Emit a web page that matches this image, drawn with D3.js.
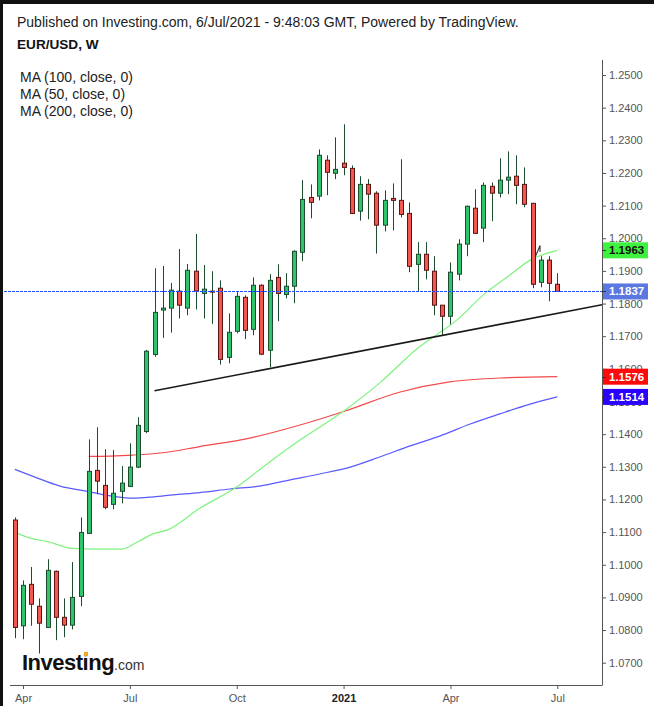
<!DOCTYPE html>
<html><head><meta charset="utf-8">
<script src="https://cdn.jsdelivr.net/npm/d3@7/dist/d3.min.js"></script>
<style>html,body{margin:0;padding:0;background:#fff;}svg{display:block;font-family:"Liberation Sans",Arial,sans-serif;}</style>
</head><body>
<script>
// ---- data (weekly EUR/USD, week of 30 Mar 2020 .. week of 5 Jul 2021) ----
const opens  = [1.1137,1.0813,1.0940,1.0873,1.0808,1.0980,1.0839,1.0815,1.0903,1.1096,1.1289,1.1243,1.1185,1.1225,1.1240,1.1299,1.1408,1.1644,1.1780,1.1786,1.1838,1.1786,1.1899,1.1831,1.1838,1.1847,1.1635,1.1715,1.1819,1.1721,1.1856,1.1657,1.1880,1.1828,1.1853,1.1957,1.2125,1.2129,1.2239,1.2199,1.2230,1.2214,1.2083,1.2165,1.2138,1.2040,1.2122,1.2116,1.2076,1.1920,1.1951,1.1899,1.1795,1.1761,1.1890,1.1982,1.2092,1.2031,1.2159,1.2138,1.2178,1.2190,1.2165,1.2107,1.1865,1.1933,1.1859];
const highs  = [1.1145,1.0952,1.0993,1.0897,1.1017,1.0982,1.0897,1.1008,1.1145,1.1384,1.1421,1.1354,1.1351,1.1302,1.1372,1.1452,1.1658,1.1908,1.1915,1.1863,1.1967,1.1921,1.2013,1.1918,1.1899,1.1871,1.1770,1.1835,1.1825,1.1880,1.1859,1.1890,1.1920,1.1893,1.1963,1.2178,1.2165,1.2272,1.2254,1.2309,1.2349,1.2223,1.2190,1.2181,1.2144,1.2147,1.2168,1.2242,1.2110,1.1988,1.1988,1.1945,1.1795,1.1926,1.1997,1.2100,1.2150,1.2171,1.2171,1.2245,1.2266,1.2254,1.2217,1.2108,1.1945,1.1945,1.1893];
const lows   = [1.0775,1.0772,1.0813,1.0728,1.0806,1.0769,1.0778,1.0802,1.0873,1.1094,1.1216,1.1170,1.1170,1.1188,1.1238,1.1296,1.1403,1.1637,1.1695,1.1711,1.1754,1.1764,1.1782,1.1754,1.1738,1.1613,1.1617,1.1709,1.1691,1.1703,1.1642,1.1605,1.1746,1.1816,1.1801,1.1930,1.2061,1.2116,1.2132,1.2181,1.2193,1.2074,1.2054,1.2058,1.1953,1.2021,1.2024,1.2064,1.1896,1.1835,1.1874,1.1764,1.1703,1.1736,1.1871,1.1945,1.2013,1.1988,1.2052,1.2125,1.2135,1.2104,1.2095,1.1847,1.1850,1.1807,1.1836];
const closes = [1.0808,1.0937,1.0879,1.0821,1.0983,1.0839,1.0815,1.0900,1.1099,1.1286,1.1256,1.1176,1.1219,1.1250,1.1299,1.1427,1.1654,1.1773,1.1786,1.1841,1.1795,1.1902,1.1838,1.1844,1.1835,1.1629,1.1712,1.1822,1.1718,1.1856,1.1645,1.1871,1.1831,1.1853,1.1960,1.2119,1.2110,1.2254,1.2202,1.2211,1.2217,1.2076,1.2165,1.2135,1.2040,1.2116,1.2116,1.2073,1.1914,1.1951,1.1902,1.1795,1.1761,1.1896,1.1982,1.2098,1.2015,1.2162,1.2138,1.2178,1.2187,1.2162,1.2104,1.1859,1.1933,1.1862,1.1837];

// moving averages, sampled at bar indices
const ma50Idx  = [0,2,4,7,10,13,15,17,18.5,22.5,26.8,31,34.7,40.2,44.4,48.9,53.8,57.4,59.9,62.7,66];
const ma50Val  = [1.1099,1.1081,1.1071,1.1050,1.1048,1.1048,1.1071,1.1096,1.1106,1.1173,1.1235,1.1315,1.1382,1.1474,1.1557,1.1661,1.1750,1.1835,1.1881,1.1933,1.1963];
const ma100Idx = [9,11.6,14.4,18,22.5,28.6,34.7,40.2,46.9,52.9,59,66];
const ma100Val = [1.1332,1.1333,1.1336,1.1343,1.1362,1.1388,1.1428,1.1471,1.1529,1.1560,1.1572,1.1576];
const ma200Idx = [0,2.3,5.5,9,11.6,14.4,16.9,19.3,22.5,26.2,29.8,33.5,37.1,40.8,44.4,48.1,51.7,55.4,59,62.7,66];
const ma200Val = [1.1292,1.1270,1.1241,1.1224,1.1211,1.1204,1.1208,1.1214,1.1221,1.1232,1.1241,1.1260,1.1278,1.1299,1.1330,1.1364,1.1394,1.1431,1.1462,1.1492,1.1514];

// trendline anchors (bar index, price)
const trendIdx = [17, 66];
const trendVal = [1.1533, 1.1770];
// small drawn stroke near recent bars
const markIdx = [63.3, 63.9, 63.9];
const markVal = [1.1942, 1.1978, 1.1958];

const yTicks = [1.25,1.24,1.23,1.22,1.21,1.20,1.19,1.18,1.17,1.16,1.15,1.14,1.13,1.12,1.11,1.10,1.09,1.08,1.07];
const xTickIdx = [1,14,27,40,53,66];
const xTickLabels = ["Apr","Jul","Oct","2021","Apr","Jul"];

const lastPrice = 1.1837;
const badges = [
  {v:1.1963, bg:"#3ff23f", fg:"#111"},
  {v:1.1837, bg:"#5b78e0", fg:"#fff"},
  {v:1.1576, bg:"#ff0a0a", fg:"#fff"},
  {v:1.1514, bg:"#2a00ff", fg:"#fff"}
];

// ---- drawing ----
const W = 654, H = 706;
const plotRight = 602, plotBottom = 685, plotLeft = 10;
const svg = d3.select("body").append("svg").attr("width", W).attr("height", H);
svg.append("rect").attr("width", W).attr("height", H).attr("fill", "#fff");

const x = d3.scaleLinear().domain([0, 66]).range([14.8, 557.3]);
const y = d3.scaleLinear().domain([1.07, 1.25]).range([662.7, 75]);

// header texts
svg.append("text").attr("x", 17).attr("y", 27).attr("font-size", 14).attr("fill", "#222")
  .text("Published on Investing.com, 6/Jul/2021 - 9:48:03 GMT, Powered by TradingView.");
svg.append("text").attr("x", 17).attr("y", 49).attr("font-size", 13.6).attr("font-weight", "bold").attr("fill", "#111")
  .text("EUR/USD, W");
["MA (100, close, 0)","MA (50, close, 0)","MA (200, close, 0)"].forEach((t,k)=>{
  svg.append("text").attr("x", 20).attr("y", 82 + k*17).attr("font-size", 14).attr("fill", "#222").text(t);
});

svg.append("clipPath").attr("id","pc").append("rect")
  .attr("x", 0).attr("y", 60).attr("width", plotRight).attr("height", plotBottom-60);
const g = svg.append("g").attr("clip-path","url(#pc)");

// MA lines
const lineGen = d3.line().x(d=>x(d[0])).y(d=>y(d[1])).curve(d3.curveMonotoneX);
const maDefs = [
  {idx:ma200Idx, val:ma200Val, c:"#5a5aff"},
  {idx:ma100Idx, val:ma100Val, c:"#f24a4a"},
  {idx:ma50Idx,  val:ma50Val,  c:"#7ef27e"}
];
maDefs.forEach(m=>{
  g.append("path").attr("d", lineGen(m.idx.map((i,k)=>[i, m.val[k]])))
    .attr("fill","none").attr("stroke", m.c).attr("stroke-width", 1.2);
});

// trendline extended to right edge
const slope = (trendVal[1]-trendVal[0])/(trendIdx[1]-trendIdx[0]);
const endIdx = x.invert(plotRight);
g.append("line")
  .attr("x1", x(trendIdx[0])).attr("y1", y(trendVal[0]))
  .attr("x2", x(endIdx)).attr("y2", y(trendVal[0] + slope*(endIdx-trendIdx[0])))
  .attr("stroke","#1a1a1a").attr("stroke-width",1.6);

// small stroke
g.append("path").attr("d", d3.line().x(d=>x(d[0])).y(d=>y(d[1]))(markIdx.map((i,k)=>[i, markVal[k]])))
  .attr("fill","none").attr("stroke","#333").attr("stroke-width",1.1);

// candles
const bw = 4;
opens.forEach((o,i)=>{
  const c = closes[i], up = c >= o;
  const cx = Math.round(x(i)) + 0.5;
  g.append("line").attr("x1", cx).attr("x2", cx).attr("y1", y(highs[i])).attr("y2", y(lows[i]))
    .attr("stroke", "#1d4b2e").attr("stroke-width", 1);
  const top = y(Math.max(o,c)), bot = y(Math.min(o,c));
  g.append("rect").attr("x", cx - bw/2).attr("y", top).attr("width", bw).attr("height", Math.max(1, bot-top))
    .attr("fill", up ? "#2fc46c" : "#f2584f").attr("stroke", up ? "#1d4b2e" : "#5a1414").attr("stroke-width", 1);
});

// last price dashed line
const ly = Math.round(y(lastPrice)) + 0.5;
svg.append("line").attr("x1", 0).attr("x2", plotRight).attr("y1", ly).attr("y2", ly)
  .attr("stroke","#1f4dff").attr("stroke-width",1).attr("stroke-dasharray","3,1")
  .attr("shape-rendering","crispEdges");

// axes
const yAxis = d3.axisRight(y).tickValues(yTicks).tickFormat(d3.format(".4f")).tickSize(4).tickPadding(3);
const ya = svg.append("g").attr("transform", `translate(${plotRight},0)`).call(yAxis);
ya.select(".domain").attr("d", `M0.5,60V${plotBottom}`).attr("stroke","#555");
ya.selectAll(".tick line").attr("stroke","#555");
ya.selectAll(".tick text").attr("font-size", 11).attr("fill","#555").attr("font-family","Liberation Sans, Arial, sans-serif");

const xAxis = d3.axisBottom(x).tickValues(xTickIdx).tickFormat((d,k)=>xTickLabels[k]).tickSize(4).tickPadding(5);
const xa = svg.append("g").attr("transform", `translate(0,${plotBottom})`).call(xAxis);
xa.select(".domain").attr("d", `M${plotLeft},0.5H${plotRight+0.5}`).attr("stroke","#555");
xa.selectAll(".tick line").attr("stroke","#555");
xa.selectAll(".tick text").attr("font-size", 11).attr("fill", (d,k)=> xTickLabels[k]==="2021" ? "#222" : "#555")
  .attr("font-weight", (d,k)=> xTickLabels[k]==="2021" ? "bold" : "normal")
  .attr("font-family","Liberation Sans, Arial, sans-serif");

// price badges
badges.forEach(b=>{
  const yy = y(b.v);
  svg.append("rect").attr("x", plotRight+1).attr("y", yy-8).attr("width", 45).attr("height", 16).attr("fill", b.bg);
  svg.append("line").attr("x1", plotRight).attr("x2", plotRight+4).attr("y1", Math.round(yy)+0.5).attr("y2", Math.round(yy)+0.5).attr("stroke", "#333");
  svg.append("text").attr("x", plotRight+7).attr("y", yy+4).attr("font-size", 11.5).attr("font-weight","bold")
    .attr("fill", b.fg).text(d3.format(".4f")(b.v));
});

// logo
const logo = svg.append("text").attr("x", 22).attr("y", 670).attr("font-weight","bold").attr("fill","#111");
logo.append("tspan").attr("font-size", 22).attr("letter-spacing", -0.5).text("Investing");
logo.append("tspan").attr("font-size", 14).attr("font-weight","normal").attr("fill","#333").text(".com");
svg.append("rect").attr("x", 84).attr("y", 652).attr("width", 4).attr("height", 4).attr("fill","#f5a623");

// frame
svg.append("rect").attr("x",0).attr("y",0).attr("width",W).attr("height",4).attr("fill","#111");
svg.append("rect").attr("x",0).attr("y",0).attr("width",3).attr("height",H).attr("fill","#111");
</script>
</body></html>
